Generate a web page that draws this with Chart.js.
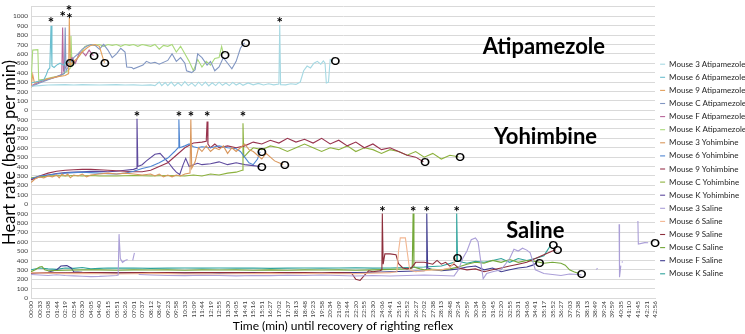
<!DOCTYPE html>
<html>
<head>
<meta charset="utf-8">
<script src="https://cdn.jsdelivr.net/npm/chart.js@4.4.1/dist/chart.umd.min.js"></script>
<style>
    html, body { margin: 0; padding: 0; background: #fff; }
</style>
</head>
<body>
<canvas id="hrChart" width="745" height="334"></canvas>
<script>
// x values are in label steps (one step = one tick label, ~35 s)
const timeLabels = [
    "00:00","00:33","01:08","01:44","02:19","02:54","03:30","04:05","04:40","05:15",
    "05:51","06:26","07:01","07:37","08:12","08:47","09:23","09:58","10:33","11:09",
    "11:44","12:19","12:55","13:30","14:05","14:41","15:16","15:51","16:27","17:02",
    "17:37","18:13","18:48","19:23","19:58","20:34","21:09","21:44","22:20","22:55",
    "23:30","24:06","24:41","25:16","25:52","26:27","27:02","27:38","28:13","28:48",
    "29:24","29:59","30:34","31:09","31:45","32:20","32:55","33:31","34:06","34:41",
    "35:17","35:52","36:27","37:03","37:38","38:13","38:49","39:24","39:59","40:35",
    "41:10","41:45","42:21","42:56"
];

// each panel is stacked on one axis: Atipamezole +2000, Yohimbine +1000, Saline +0
const panelNames = ["Atipamezole", "Yohimbine", "Saline"];
const panelOffsets = [2000, 1000, 0];

// ---- Atipamezole ----
const atip3 = [[0,255],[1,262],[2,268],[3,270],[4,272],[5,268],[6,272],[7,270],[8,268],[9,270],[10,272],[11,268],[12,270],[13,266],[14,270],[14.5,262],[15,300],[15.3,262],[15.7,295],[16,262],[16.4,300],[16.8,258],[17.2,292],[17.6,260],[18,305],[18.4,262],[18.8,290],[19.2,255],[19.6,298],[20,262],[20.4,300],[20.8,258],[21.2,292],[21.6,262],[22,298],[22.4,265],[22.8,290],[23.2,262],[23.6,296],[24,268],[24.4,288],[24.8,265],[25.4,290],[26,270],[26.6,285],[27.2,268],[27.8,282],[28.4,270],[29,278],[29.1,910],[29.2,272],[29.8,270],[30.4,282],[31,275],[31.5,300],[31.9,420],[32.3,470],[32.7,450],[33.1,500],[33.5,520],[33.9,490],[34.2,525],[34.4,500],[34.55,290],[34.8,300],[35,540],[35.3,530]];
const atip6 = [[0,290],[0.5,300],[1,310],[1.5,325],[1.8,380],[2,430],[2.2,450],[2.34,900],[2.45,470],[2.7,455],[3,480],[3.4,500],[3.8,480],[4.2,520],[4.5,507]];
const atip9 = [[0,240],[0.2,380],[0.4,290],[1,310],[2,335],[3,355],[4,370],[4.4,390],[4.48,985],[4.6,480],[5,520],[5.5,560],[6,620],[6.5,660],[7,690],[7.5,700],[8,680],[8.4,560],[8.6,507]];
const atipC = [[0,250],[1,290],[2,325],[3,355],[3.9,390],[4.0,880],[4.1,420],[4.6,500],[5,560],[5.5,600],[6,650],[6.5,680],[7,700],[7.5,690],[8,650],[8.5,700],[9,640],[9.5,560],[10,600],[10.5,660],[11,620],[11.2,460],[11.8,455],[12,440],[13.1,480],[13.5,520],[14,500],[14.5,510],[15,490],[16,530],[16.5,600],[17,520],[17.5,560],[18,500],[18.2,420],[18.8,400],[19.2,430],[19.5,600],[20,560],[20.6,480],[21,520],[21.5,420],[22,460],[22.5,560],[23,500],[23.5,440],[24,520],[24.5,660],[24.8,700],[25,718]];
const atipF = [[0,260],[1,300],[2,330],[3,355],[3.6,380],[3.7,880],[3.8,420],[4.2,480],[4.8,560],[5.2,500],[5.6,600],[6,620],[6.4,580],[6.8,640],[7.1,600],[7.3,581]];
const atipK = [[0,270],[0.2,640],[0.8,645],[0.9,320],[1.5,330],[2.5,350],[3.5,370],[4.3,420],[4.6,450],[4.68,790],[4.8,470],[5.2,520],[5.8,600],[6.3,680],[7,700],[7.5,690],[8,700],[8.5,680],[9,700],[9.5,690],[10,700],[10.5,680],[11,700],[11.5,690],[12,700],[12.5,680],[13,700],[13.5,690],[14,680],[14.5,700],[15,650],[15.5,690],[16,680],[16.5,700],[17,620],[17.5,680],[18,600],[18.5,520],[19,420],[19.5,540],[20,460],[20.5,520],[21,480],[21.5,550],[22,560],[22.3,680],[22.5,602]];

// ---- Yohimbine ----
const yoh3 = [[0,230],[0.5,270],[1,290],[1.5,280],[2,300],[2.5,290],[3,310],[3.3,280],[3.6,320],[4,300],[4.3,320],[4.6,280],[5,310],[5.5,300],[6,320],[6.5,290],[7,310],[8,320],[9,330],[10,320],[11,330],[12,320],[13,310],[14,320],[14.5,300],[15,320],[15.5,290],[16,310],[16.5,290],[17,310],[17.5,300],[18,320],[18.6,330],[18.7,900],[18.8,380],[19.2,450],[19.6,600],[20,560],[20.5,620],[21,560],[21.5,600],[22,580],[22.5,620],[23,540],[23.5,600],[24,560],[24.5,600],[25,640],[25.5,580],[26,560],[26.5,520],[27,480],[27.5,540],[28,500],[28.5,460],[29,440],[29.5,421]];
const yoh6 = [[0,270],[1,300],[2,310],[3,320],[4,330],[5,335],[6,340],[7,335],[8,330],[9,325],[10,320],[11,330],[12,350],[13,380],[14,400],[15,440],[16,490],[16.8,560],[17.2,600],[17.3,900],[17.4,600],[18,620],[18.5,640],[19,610],[19.5,600],[20,610],[21,600],[22,620],[23,600],[24,590],[24.5,560],[25,500],[25.5,440],[26,420],[26.5,480],[26.8,558]];
const yoh9 = [[0,260],[1,300],[2,330],[3,350],[4,360],[5,365],[6,370],[7,370],[8,365],[9,360],[10,355],[11,350],[12,345],[13,345],[14,360],[15,400],[16,440],[17,520],[18,600],[19,650],[20,660],[20.5,670],[20.6,880],[20.7,640],[21,600],[21.5,640],[22,600],[23,620],[24,600],[25,620],[26,660],[27,640],[28,680],[29,650],[30,700],[31,660],[32,690],[33,650],[34,700],[35,640],[36,680],[37,620],[38,660],[39,600],[40,640],[41,580],[42,600],[43,560],[44,520],[45,500],[45.9,452]];
const yohC = [[0,280],[1,290],[2,300],[3,305],[4,300],[5,305],[6,300],[7,305],[8,300],[10,300],[12,305],[14,300],[16,305],[18,300],[19,310],[20,300],[21,320],[22,310],[23,330],[24,340],[24.7,360],[24.8,860],[24.9,500],[25.5,560],[26,600],[27,580],[28,620],[29,600],[30,560],[31,600],[32,640],[33,600],[34,560],[35,600],[36,580],[37,620],[38,560],[39,600],[40,580],[41,540],[42,580],[43,560],[44,520],[45,560],[46,500],[47,540],[48,480],[49,520],[50,505]];
const yohK = [[0,260],[1,290],[2,310],[3,325],[4,335],[5,340],[6,345],[7,350],[8,348],[9,345],[10,350],[11,360],[12,370],[12.3,380],[12.4,910],[12.5,400],[13,420],[13.5,460],[14.5,530],[15.1,540],[15.6,490],[16.1,440],[16.6,380],[17,340],[17.4,315],[17.8,420],[18.1,487],[18.5,400],[19,420],[19.5,435],[20,420],[21,430],[22,450],[23,420],[24,440],[25,420],[26,410],[26.8,400]];

// ---- Saline ----
const sal3 = [[0,250],[1,245],[2,240],[3,248],[4,240],[5,236],[6,232],[7,228],[8,230],[9,235],[10,240],[10.2,245],[10.3,680],[10.45,420],[10.7,380],[11,400],[11.3,410],[11.6,null],[11.9,400],[12.1,480],[12.4,null],[12.6,250],[14,245],[16,240],[18,238],[20,242],[22,240],[24,236],[26,240],[28,238],[30,242],[32,240],[34,245],[36,240],[38,235],[40,240],[42,235],[44,240],[46,245],[48,240],[49.5,235],[50,300],[50.5,420],[51,500],[51.5,620],[52,640],[52.3,600],[52.6,400],[52.9,205],[53.3,260],[54,280],[55,300],[56,420],[56.5,520],[57,500],[57.5,530],[58,510],[58.4,480],[59,300],[60,260],[61,250],[62,240],[63,255],[64,250],[64.4,245],[65,null],[66.1,305],[66.3,315],[67,null],[68.8,785],[68.85,222],[69,345],[69.05,null],[69.1,380],[69.25,385],[70,null],[71,820],[71.05,574],[71.8,590],[72.2,588]];
const sal6 = [[0,270],[2,265],[4,260],[6,262],[8,258],[10,255],[12,258],[14,262],[16,260],[18,255],[20,258],[22,255],[24,258],[26,260],[28,262],[30,258],[32,260],[34,262],[36,258],[38,260],[40,265],[42,270],[42.8,280],[43,500],[43.2,640],[43.8,640],[44,500],[44.3,300],[45,280],[46,290],[47,300],[48,300],[49,320],[49.5,380],[49.7,430]];
const sal9 = [[0,265],[2,270],[4,268],[6,272],[8,270],[10,268],[12,270],[14,272],[16,270],[18,268],[20,270],[22,272],[24,270],[26,268],[28,270],[30,272],[32,270],[34,268],[36,270],[37.5,265],[38,200],[38.5,187],[39,240],[39.5,290],[40,280],[40.8,290],[41.05,300],[41.1,900],[41.2,360],[41.4,470],[42,470],[42.7,460],[43,365],[43.5,320],[44,310],[44.5,320],[45,380],[46,380],[47,360],[47.5,400],[48,360],[48.5,380],[49,340],[49.5,360],[50,320],[51,300],[52,310],[53,280],[54,300],[55,320],[56,340],[57,360],[58,380],[59,420],[60,460],[61,500],[61.4,514]];
const salC = [[0,280],[0.5,300],[1,330],[1.3,335],[1.6,300],[2,290],[4,295],[6,300],[8,300],[10,295],[12,300],[14,298],[16,300],[18,295],[20,300],[22,298],[24,300],[26,296],[28,300],[30,295],[32,300],[34,298],[36,300],[38,295],[40,300],[42,305],[44,310],[44.6,320],[44.7,900],[44.8,330],[45.5,310],[46,300],[47,305],[48,300],[49,310],[50,330],[51,360],[52,380],[53,370],[54,400],[55,380],[56,410],[57,380],[58,400],[59,390],[60,370],[61,380],[62,370],[62.5,350],[63,300],[63.5,280],[64,264]];
const salF = [[0,270],[2,275],[3,300],[3.5,340],[4.2,345],[4.7,320],[5,280],[6,275],[8,270],[10,268],[12,270],[14,265],[16,270],[18,268],[20,270],[22,265],[24,268],[26,270],[28,268],[30,270],[32,265],[34,268],[36,270],[38,270],[40,275],[42,280],[44,285],[46,290],[46.25,300],[46.3,900],[46.4,320],[47,300],[48,290],[49,300],[50,310],[51,330],[52,340],[53,300],[54,320],[55,280],[56,300],[57,320],[58,330],[58.7,350],[59.2,378]];
const salK = [[0,300],[1,320],[2,310],[3,305],[4,320],[5,315],[6,325],[7,310],[8,315],[9,320],[10,318],[12,320],[14,315],[16,318],[18,320],[20,318],[22,320],[24,318],[26,320],[28,315],[30,318],[32,320],[34,318],[36,320],[38,322],[40,318],[42,320],[44,325],[46,330],[48,340],[49.5,380],[49.75,400],[49.8,900],[49.9,400],[50.5,380],[51,370],[52,390],[53,380],[54,400],[55,420],[56,380],[57,420],[58,400],[59,420],[60,450],[60.5,520],[60.8,565]];

// arousal (*) and righting reflex (O) marks: [step, bpm]
const atipStars = [[2.34,960],[3.7,1025],[4.45,1090],[4.5,1005],[29.1,960]];
const yohStars = [[12.4,960],[17.3,960],[18.7,960],[20.6,960],[24.8,960]];
const salStars = [[41.1,945],[44.7,945],[46.3,945],[49.8,945]];
const atipRights = [[4.56,507],[7.37,581],[8.65,507],[22.7,595],[25.1,718],[35.6,525]];
const yohRights = [[27.0,558],[27.0,400],[29.7,421],[46.1,452],[50.2,505]];
const salRights = [[49.9,430],[59.5,377],[61.1,566],[61.6,514],[64.4,260],[73,588]];
const titleSpots = [[60,670],[60.2,716],[59,712]];

const seriesList = [
    { label: "Mouse 3 Atipamezole", color: "#a6d9e3", data: atip3, panel: 0 },
    { label: "Mouse 6 Atipamezole", color: "#6cbfcf", data: atip6, panel: 0 },
    { label: "Mouse 9 Atipamezole", color: "#e2a05c", data: atip9, panel: 0 },
    { label: "Mouse C Atipamezole", color: "#8196c2", data: atipC, panel: 0 },
    { label: "Mouse F Atipamezole", color: "#b8669a", data: atipF, panel: 0 },
    { label: "Mouse K Atipamezole", color: "#a9d97a", data: atipK, panel: 0 },
    { label: "Mouse 3 Yohimbine", color: "#d9975c", data: yoh3, panel: 1 },
    { label: "Mouse 6 Yohimbine", color: "#4f86d2", data: yoh6, panel: 1 },
    { label: "Mouse 9 Yohimbine", color: "#98334d", data: yoh9, panel: 1 },
    { label: "Mouse C Yohimbine", color: "#8db23e", data: yohC, panel: 1 },
    { label: "Mouse K Yohimbine", color: "#5e4a9e", data: yohK, panel: 1 },
    { label: "Mouse 3 Saline", color: "#ab9fd8", data: sal3, panel: 2 },
    { label: "Mouse 6 Saline", color: "#f3b792", data: sal6, panel: 2 },
    { label: "Mouse 9 Saline", color: "#8e2f3c", data: sal9, panel: 2 },
    { label: "Mouse C Saline", color: "#74a83a", data: salC, panel: 2 },
    { label: "Mouse F Saline", color: "#3f3c8f", data: salF, panel: 2 },
    { label: "Mouse K Saline", color: "#2fa39c", data: salK, panel: 2 },
];

const datasets = seriesList.map(s => ({
    label: s.label,
    data: s.data.map(([t, bpm]) => ({ x: t, y: bpm === null ? null : bpm + panelOffsets[s.panel] })),
    borderColor: s.color,
    backgroundColor: s.color,
    borderWidth: 1.1,
    pointRadius: 0,
    tension: 0,
    spanGaps: false,
}));

function yLabel(v) {
    if (v === 3100) return "";
    if (v === 3000) return "1000";
    return String(v % 1000);
}

const marksPlugin = {
    id: "marks",
    afterDatasetsDraw(chart) {
        const { ctx } = chart;
        const xs = chart.scales.x, ys = chart.scales.y;
        ctx.save();
        ctx.fillStyle = "#000";
        ctx.textAlign = "center";
        ctx.textBaseline = "alphabetic";

        ctx.font = "bold 15px Lato";
        [atipStars, yohStars, salStars].forEach((list, p) => {
            list.forEach(([t, v]) => {
                ctx.fillText("*", xs.getPixelForValue(t), ys.getPixelForValue(v + panelOffsets[p]) + 8);
            });
        });

        ctx.font = "bold 12px Lato";
        [atipRights, yohRights, salRights].forEach((list, p) => {
            list.forEach(([t, v]) => {
                ctx.fillText("O", xs.getPixelForValue(t), ys.getPixelForValue(v + panelOffsets[p]) + 4.5);
            });
        });

        ctx.font = "bold 22px Lato";
        ctx.textBaseline = "middle";
        panelNames.forEach((name, p) => {
            const [t, v] = titleSpots[p];
            ctx.fillText(name, xs.getPixelForValue(t), ys.getPixelForValue(v + panelOffsets[p]));
        });
        ctx.restore();
    }
};

new Chart(document.getElementById("hrChart").getContext("2d"), {
    type: "line",
    data: { datasets },
    plugins: [marksPlugin],
    options: {
        responsive: false,
        animation: false,
        layout: { padding: { top: 4, left: 0, right: 0, bottom: 0 } },
        plugins: {
            legend: {
                position: "right",
                maxWidth: 90,
                labels: {
                    usePointStyle: true,
                    pointStyle: "line",
                    pointStyleWidth: 5,
                    boxWidth: 5,
                    padding: 5.1,
                    color: "#262626",
                    font: { family: "Lato", size: 8 },
                },
            },
            tooltip: { enabled: false },
        },
        scales: {
            x: {
                type: "linear",
                min: 0,
                max: 73,
                afterFit(scale) { scale.height = 36; },
                grid: { display: false, drawTicks: false },
                border: { color: "#d9d9d9" },
                ticks: {
                    stepSize: 1,
                    autoSkip: false,
                    maxTicksLimit: 100,
                    minRotation: 90,
                    maxRotation: 90,
                    padding: 3,
                    color: "#404040",
                    font: { family: "Lato", size: 6.5 },
                    callback: v => timeLabels[v] ?? "",
                },
                title: {
                    display: true,
                    text: "Time (min) until recovery of righting reflex",
                    color: "#000",
                    font: { family: "Lato", size: 12 },
                    padding: { top: 0, bottom: 1 },
                },
            },
            y: {
                min: 0,
                max: 3100,
                afterFit(scale) { scale.width = 31; },
                grid: { color: "#d9d9d9", drawTicks: false },
                border: { color: "#d9d9d9" },
                ticks: {
                    stepSize: 100,
                    autoSkip: false,
                    maxTicksLimit: 40,
                    padding: 3,
                    color: "#404040",
                    font: { family: "Lato", size: 6.5 },
                    callback: v => yLabel(v),
                },
                title: {
                    display: true,
                    text: "Heart rate (beats per min)",
                    color: "#000",
                    font: { family: "Lato", size: 16.5 },
                    padding: { top: 0, bottom: 0 },
                },
            },
        },
    },
});
</script>
</body>
</html>
